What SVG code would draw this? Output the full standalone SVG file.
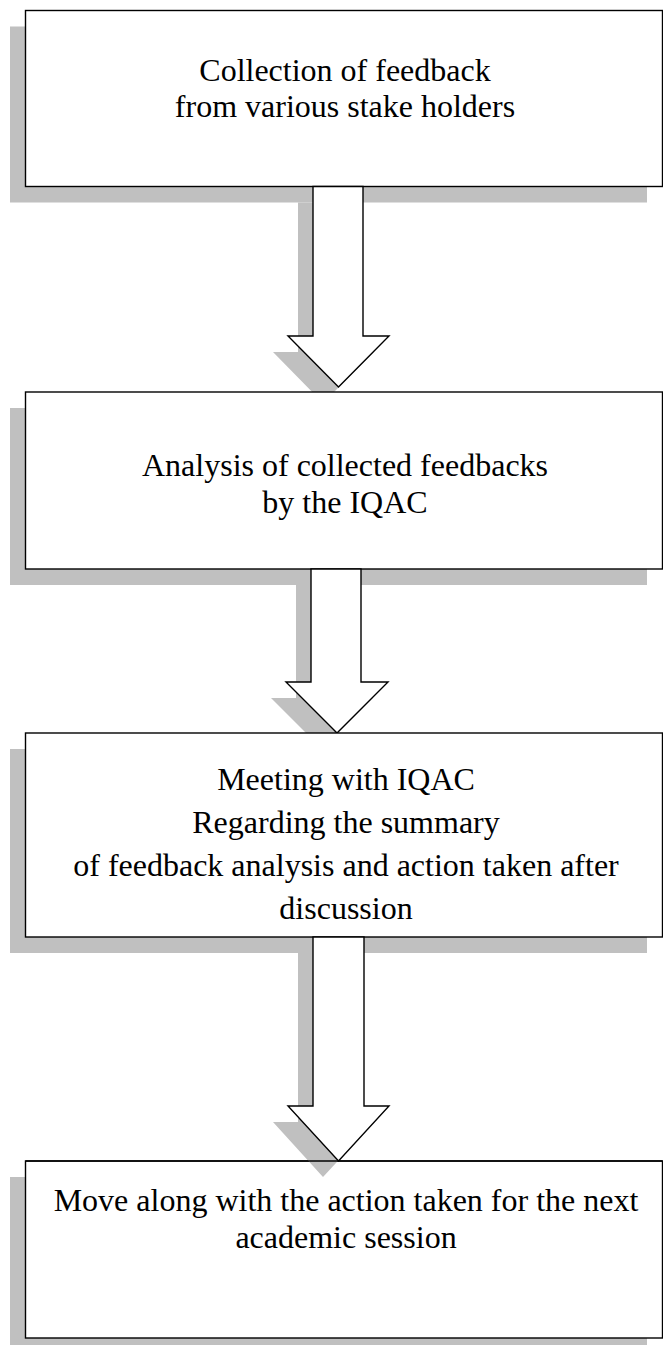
<svg xmlns="http://www.w3.org/2000/svg" width="663" height="1345" viewBox="0 0 663 1345">
<style>
.box{fill:#fff;stroke:#000;stroke-width:1.4}
.edge{fill:none;stroke:#000;stroke-width:1.4}
.shd{fill:#c0c0c0;stroke:none}
.arr{fill:#fff;stroke:#000;stroke-width:1.4;stroke-linejoin:miter}
text{font-family:"Liberation Serif","Times New Roman",serif;font-size:32px;fill:#000;text-anchor:middle}
</style>
<rect width="663" height="1345" fill="#fff"/>
<g id="node1">
<rect class="shd" x="10" y="26.5" width="637" height="176"/>
<rect class="box" x="25.5" y="10.5" width="637" height="176"/>
<text x="345" y="81">Collection of feedback</text>
<text x="345" y="117">from various stake holders</text>
</g>
<g id="connector1">
<polygon class="shd" points="298,202.5 348,202.5 348,352 374,352 323,403 273,352 298,352"/>
<polygon class="arr" points="313,186.5 363,186.5 363,336 389,336 338.5,387 288,336 313,336"/>
</g>
<g id="node2">
<rect class="shd" x="10" y="408" width="637" height="177"/>
<rect class="box" x="25.5" y="392" width="637" height="177"/>
<text x="345" y="476">Analysis of collected feedbacks</text>
<text x="345" y="513">by the IQAC</text>
</g>
<g id="connector2">
<polygon class="shd" points="296,585 346,585 346,698 373,698 322,749 271,698 296,698"/>
<polygon class="arr" points="311,569 361,569 361,682 388,682 337,733 286,682 311,682"/>
</g>
<g id="node3">
<rect class="shd" x="10" y="749" width="637" height="204"/>
<rect class="box" x="25.5" y="733" width="637" height="204"/>
<text x="346" y="790">Meeting with IQAC</text>
<text x="346" y="833">Regarding the summary</text>
<text x="346" y="876">of feedback analysis and action taken after</text>
<text x="346" y="919">discussion</text>
</g>
<g id="node4">
<rect class="shd" x="10" y="1177" width="637" height="177"/>
<rect class="box" x="25.5" y="1161" width="637" height="177"/>
<text x="346" y="1211">Move along with the action taken for the next</text>
<text x="346" y="1248">academic session</text>
</g>
<g id="connector3">
<polygon class="shd" points="298,953 349,953 349,1122 374,1122 323,1177 273,1122 298,1122"/>
<line class="edge" x1="25.5" y1="1161" x2="662.5" y2="1161"/>
<polygon class="arr" points="313,937 364,937 364,1106 389,1106 338.5,1161 288,1106 313,1106"/>
</g>
</svg>
